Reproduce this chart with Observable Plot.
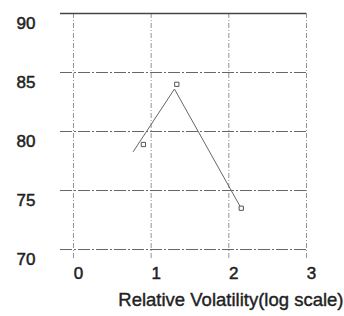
<!DOCTYPE html>
<html><head><meta charset="utf-8">
<script src="https://cdn.jsdelivr.net/npm/d3@7"></script>
<script src="https://cdn.jsdelivr.net/npm/@observablehq/plot@0.6"></script>
<style>body{margin:0;background:#fff;} svg{display:block;}</style>
</head><body><div id="chart"></div>
<script>
const yTicks = [70, 75, 80, 85, 90];
const xTicks = [0, 1, 2, 3];
const lineX = [0.77, 1.30, 2.15];
const lineY = [78.3, 83.6, 73.6];
const markX = [0.90, 1.33, 2.16];
const markY = [78.9, 84.0, 73.5];
const xLabel = "Relative Volatility(log scale)";

const lineData = lineX.map((x, i) => ({x, y: lineY[i]}));
const markData = markX.map((x, i) => ({x, y: markY[i]}));
const font = "Liberation Sans, Arial, sans-serif";

const chart = Plot.plot({
  width: 344, height: 316,
  marginLeft: 60, marginRight: 38, marginTop: 13, marginBottom: 58,
  x: {domain: [-0.167, 3], axis: null},
  y: {domain: [69.24, 90], axis: null},
  style: {fontFamily: font, background: "#fff"},
  marks: [
    Plot.ruleX(xTicks, {stroke: "#777", strokeWidth: 0.8, strokeDasharray: "5,2,1,2"}),
    Plot.ruleY(yTicks.filter(d => d < 90), {stroke: "#555", strokeWidth: 0.9, strokeDasharray: "12,2,2,2"}),
    Plot.ruleY(yTicks.filter(d => d === 90), {stroke: "#444", strokeWidth: 1.6}),
    Plot.line(lineData, {x: "x", y: "y", stroke: "#666", strokeWidth: 1}),
    Plot.dot(markData, {x: "x", y: "y", symbol: "square", r: 2.4, fill: "#fff", stroke: "#555", strokeWidth: 1}),
    Plot.text(yTicks, {x: -0.167, y: d => d, text: d => String(d), dx: -25, dy: 10, textAnchor: "end", fontSize: 17, fill: "#222", stroke: "#222", strokeWidth: 0.5}),
    Plot.text(xTicks, {x: d => d, frameAnchor: "bottom", text: d => String(d), dx: 5, dy: 20, fontSize: 17, fill: "#222", stroke: "#222", strokeWidth: 0.5}),
    Plot.text([xLabel], {frameAnchor: "bottom-right", text: d => d, dx: 37, dy: 47, textAnchor: "end", fontSize: 18.5, fill: "#222", stroke: "#222", strokeWidth: 0.4})
  ]
});
document.getElementById("chart").append(chart);
</script></body></html>
